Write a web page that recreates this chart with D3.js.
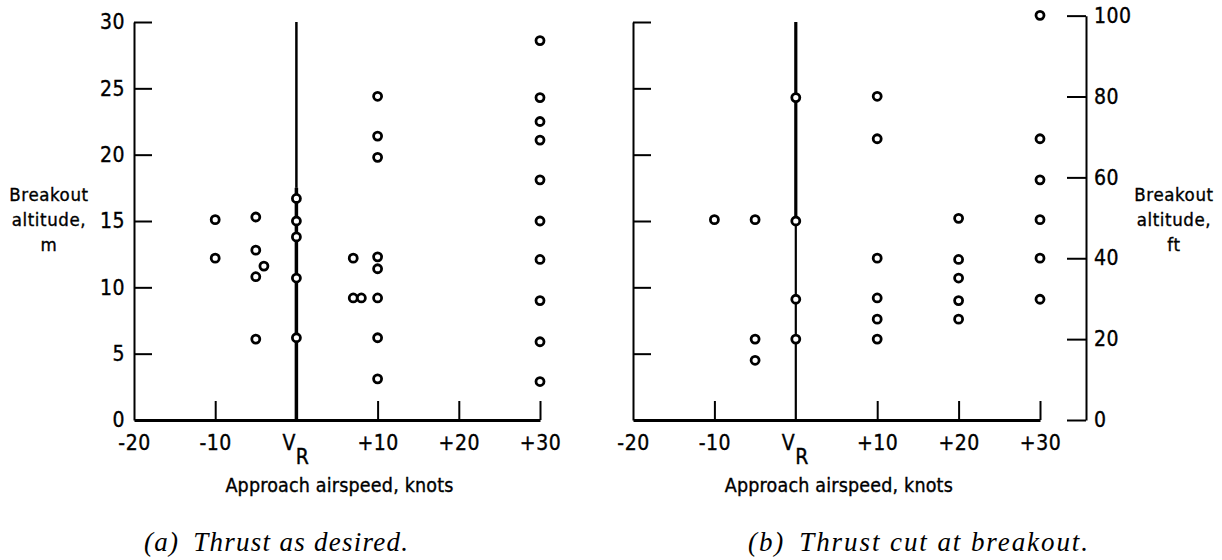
<!DOCTYPE html>
<html>
<head>
<meta charset="utf-8">
<script src="https://cdn.jsdelivr.net/npm/d3@7"></script>
<style>
  html, body { margin: 0; padding: 0; background: #fff; }
  svg { display: block; }
  .lbl { font-family: "Liberation Sans Narrow", "DejaVu Sans Condensed", "Liberation Sans", sans-serif; fill: #000; stroke: #000; stroke-width: 0.35px; }
  .cap { font-family: "Liberation Serif", "DejaVu Serif", serif; font-style: italic; fill: #000; }
</style>
</head>
<body>
<svg id="chart" width="1222" height="560"></svg>
<script>
// Axis ticks and labels
const knotTicks = [-20, -10, 0, 10, 20, 30];
const knotLabels = ["-20", "-10", "V", "+10", "+20", "+30"];
const meterTicks = [0, 5, 10, 15, 20, 25, 30];
const footTicks = [0, 20, 40, 60, 80, 100];

// (a) Thrust as desired: approach airspeed relative to V_R (knots), breakout altitude (m)
const desiredSpeed = [-10, -10, -5, -5, -5, -5, -4, 0, 0, 0, 0, 0, 7, 7, 8,
  10, 10, 10, 10, 10, 10, 10, 10,
  30, 30, 30, 30, 30, 30, 30, 30, 30, 30];
const desiredAlt = [15.1, 12.2, 15.3, 12.8, 10.8, 6.1, 11.6, 16.7, 15.0, 13.8, 10.7, 6.2, 12.2, 9.2, 9.2,
  24.4, 21.4, 19.8, 12.3, 11.4, 9.2, 6.2, 3.1,
  28.6, 24.3, 22.5, 21.1, 18.1, 15.0, 12.1, 9.0, 5.9, 2.9];

// (b) Thrust cut at breakout
const cutSpeed = [-10, -5, -5, -5, 0, 0, 0, 0,
  10, 10, 10, 10, 10, 10,
  20, 20, 20, 20, 20,
  30, 30, 30, 30, 30, 30];
const cutAlt = [15.1, 15.1, 6.1, 4.5, 24.3, 15.0, 9.1, 6.1,
  24.4, 21.2, 12.2, 9.2, 7.6, 6.1,
  15.2, 12.1, 10.7, 9.0, 7.6,
  30.5, 21.2, 18.1, 15.1, 12.2, 9.1];

const M_PER_FT = 0.3048;
const svg = d3.select("#chart");

const y = d3.scaleLinear().domain([0, 30]).range([420, 22]);
const yFt = d3.scaleLinear().domain([0, 100]).range([y(0), y(100 * M_PER_FT)]);

function styleAxis(g, fontSize) {
  g.attr("font-family", null).attr("font-size", null);
  g.selectAll("text").attr("class", "lbl")
    .style("font-size", fontSize + "px").style("letter-spacing", "0.5px");
  g.selectAll("line").attr("stroke", "#000").attr("stroke-width", 2);
}

function panel(x, speeds, alts, opts) {
  const g = svg.append("g");

  // altitude axis, ticks pointing into the plot
  const ya = g.append("g")
    .attr("transform", `translate(${x(-20)},0)`)
    .call(d3.axisLeft(y).tickValues(opts.showM ? meterTicks : meterTicks.slice(1))
      .tickSizeInner(-18).tickSizeOuter(0).tickPadding(9)
      .tickFormat(opts.showM ? d3.format("d") : () => ""));
  styleAxis(ya, 21);
  ya.select(".domain").attr("stroke", "#000").attr("stroke-width", 2);
  ya.selectAll(".tick").filter(d => d === 0).select("line").remove();

  // airspeed axis, ticks pointing up
  const xa = g.append("g")
    .attr("transform", `translate(0,${y(0)})`)
    .call(d3.axisBottom(x).tickValues(knotTicks)
      .tickSizeInner(-19).tickSizeOuter(0).tickPadding(15)
      .tickFormat((d, i) => knotLabels[i]));
  styleAxis(xa, 21);
  xa.select(".domain").attr("stroke", "#000").attr("stroke-width", 3);
  xa.selectAll(".tick").filter(d => d === -20 || d === 0).select("line").remove();
  xa.selectAll(".tick").filter(d => d === 0).select("text")
    .attr("dx", -1)
    .append("tspan").attr("dy", 14).text("R");

  // reference speed line V_R
  g.append("line")
    .attr("x1", x(0)).attr("x2", x(0))
    .attr("y1", y(30)).attr("y2", y(opts.split))
    .attr("stroke", "#000").attr("stroke-width", opts.topW);
  g.append("line")
    .attr("x1", x(0)).attr("x2", x(0))
    .attr("y1", y(opts.split)).attr("y2", y(0))
    .attr("stroke", "#000").attr("stroke-width", opts.botW);

  // runs
  g.append("g").selectAll("circle")
    .data(d3.zip(speeds, alts))
    .join("circle")
    .attr("cx", d => x(d[0]))
    .attr("cy", d => y(d[1]))
    .attr("r", 4)
    .attr("fill", "#fff")
    .attr("stroke", "#000")
    .attr("stroke-width", 2.8);

  // airspeed title
  g.append("text").attr("class", "lbl")
    .attr("x", x(0) + 43).attr("y", 492)
    .attr("text-anchor", "middle")
    .attr("textLength", 228).attr("lengthAdjust", "spacing")
    .style("font-size", "19.5px")
    .text("Approach airspeed,  knots");

  // caption
  const cap = g.append("text").attr("class", "cap")
    .attr("x", opts.capX).attr("y", 551)
    .attr("text-anchor", "middle")
    .attr("textLength", opts.capLen).attr("lengthAdjust", "spacing")
    .style("font-size", "27px");
  cap.append("tspan").text(opts.capTag);
  cap.append("tspan").attr("dx", 14).text(opts.capText);
}

function altTitle(cx, unit) {
  const t = svg.append("text").attr("class", "lbl")
    .attr("text-anchor", "middle").style("font-size", "18.5px")
    .style("letter-spacing", "0.6px");
  ["Breakout", "altitude,", unit].forEach((s, i) => {
    t.append("tspan").attr("x", cx).attr("y", 201 + i * 25).text(s);
  });
}

const xA = d3.scaleLinear().domain([-20, 30]).range([134, 540]);
const xB = d3.scaleLinear().domain([-20, 30]).range([633, 1040]);

panel(xA, desiredSpeed, desiredAlt,
  { showM: true, split: 17.5, topW: 2.5, botW: 3.5, capX: 276, capLen: 264,
    capTag: "(a)", capText: "Thrust as desired." });
panel(xB, cutSpeed, cutAlt,
  { showM: false, split: 15, topW: 3.2, botW: 2.2, capX: 918, capLen: 340,
    capTag: "(b)", capText: "Thrust cut at breakout." });

altTitle(49, "m");
altTitle(1174, "ft");

// altitude in feet on the right-hand side
const fa = svg.append("g")
  .attr("transform", "translate(1086,0)")
  .call(d3.axisRight(yFt).tickValues(footTicks)
    .tickSizeInner(-19).tickSizeOuter(0).tickPadding(8)
    .tickFormat(d3.format("d")));
styleAxis(fa, 21);
fa.select(".domain").attr("stroke", "#000").attr("stroke-width", 2);
</script>
</body>
</html>
